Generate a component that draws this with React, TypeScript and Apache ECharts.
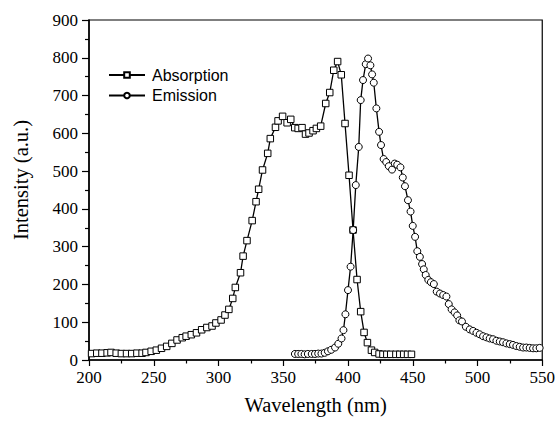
import React, { useEffect, useRef } from "react";
import * as echarts from "echarts";

const absorption: [number, number][] = [
  [202, 17], [206, 18], [210, 18], [214, 19], [217, 20], [221, 18], [225, 17], [229, 17],
  [233, 17], [237, 18], [241, 18], [244, 20], [248, 23], [252, 26], [256, 31], [260, 36],
  [264, 44], [268, 53], [272, 59], [275, 63], [279, 67], [283, 72], [287, 80], [291, 86],
  [295, 90], [298, 98], [302, 106], [305, 119], [308, 134], [311, 163], [313, 192], [317, 231],
  [319, 275], [322, 316], [326, 369], [329, 419], [331, 452], [334, 503], [338, 547], [340, 586],
  [344, 616], [346, 633], [349.5, 645], [353, 628], [355.8, 637], [358.9, 615], [361.5, 613],
  [364.5, 615], [367.2, 598], [369.9, 601], [373, 607], [375.6, 613], [378.9, 619], [382.8, 679],
  [385.9, 708], [389, 767], [392, 790], [394.8, 755], [397.7, 626], [400.8, 489], [403.9, 344],
  [407, 213], [409.8, 128], [412.4, 73], [415, 46], [418.1, 26], [420.6, 20], [424, 16],
  [427, 15], [430, 15], [433, 15], [437, 15], [440, 15], [443, 15], [446, 15], [449, 15],
];

const emission: [number, number][] = [
  [359, 16], [361.5, 16], [364, 16], [366.5, 15], [369, 16], [372, 16], [374.5, 16], [377, 17],
  [379.5, 17], [382, 19], [384.5, 23], [387, 27], [390, 33], [392.5, 43], [395, 57], [396.5, 79],
  [398, 121], [400, 185], [402, 247], [404, 344], [406, 463], [408.3, 564], [409.8, 688],
  [411.6, 741], [413.7, 783], [415.5, 798], [417.3, 780], [418.6, 756], [419.9, 734], [421.9, 666],
  [424, 604], [425.5, 569], [427.5, 532], [429.5, 524], [431.5, 513], [434, 504], [436.1, 520],
  [438, 517], [440.5, 510], [442.3, 483], [444, 460], [446.3, 423], [448.3, 393], [450, 355],
  [451.8, 326], [453.5, 288], [455.5, 273], [457.2, 254], [458.5, 240], [460, 225], [462, 212],
  [464, 206], [466.3, 201], [468.5, 181], [471, 176], [473.5, 172], [476, 168], [477.8, 148],
  [480, 134], [482.3, 126], [484.3, 118], [486, 105], [488, 102], [491, 88], [494, 81],
  [496.6, 77], [499.2, 72], [501.7, 68], [504.3, 63], [506.9, 60], [509.4, 57], [512, 55],
  [514.6, 51], [517.2, 49], [519.7, 47], [522.3, 44], [524.9, 42], [527.4, 40], [530, 37],
  [532.6, 35], [535.2, 33], [537.7, 33], [540.3, 32], [542.9, 31], [545.4, 31], [548, 32],
];

const seriesNames = ["Absorption", "Emission"];
const xTitle = "Wavelength (nm)";
const yTitle = "Intensity (a.u.)";

export default function App() {
  const ref = useRef<HTMLDivElement>(null);
  useEffect(() => {
    if (!ref.current) return;
    const chart = echarts.init(ref.current, undefined, { renderer: "svg" });
    const serif = "'Liberation Serif', 'Times New Roman', serif";
    const sans = "'Liberation Sans', Arial, sans-serif";
    chart.setOption({
      animation: false,
      backgroundColor: "#fff",
      grid: {
        left: 89, right: 15, top: 20, bottom: 61,
        show: true, borderColor: "#000", borderWidth: 1.2, backgroundColor: "transparent",
      },
      legend: {
        orient: "vertical",
        left: 108, top: 67, padding: 0,
        itemWidth: 36, itemHeight: 7, itemGap: 4.5,
        textStyle: { fontFamily: sans, fontSize: 16, color: "#000", padding: [0, 0, 0, 2] },
        data: seriesNames,
      },
      graphic: [
        {
          type: "text", x: 21, y: 180, rotation: Math.PI / 2,
          style: {
            text: yTitle, align: "center", verticalAlign: "middle",
            fontFamily: serif, fontSize: 20.5, fill: "#000",
          },
        },
      ],
      xAxis: {
        type: "value", min: 200, max: 550, interval: 50,
        name: xTitle, nameLocation: "middle", nameGap: 34,
        nameTextStyle: { fontFamily: serif, fontSize: 20.5, color: "#000" },
        axisLine: { show: true, onZero: false, lineStyle: { color: "#000", width: 1.5 } },
        axisTick: { show: true, inside: false, length: 6, lineStyle: { color: "#000", width: 1.2 } },
        minorTick: { show: true, splitNumber: 2, length: 3.5, lineStyle: { color: "#000", width: 1.2 } },
        axisLabel: { fontFamily: serif, fontSize: 17, color: "#000", margin: 9 },
        splitLine: { show: false },
      },
      yAxis: {
        type: "value", min: 0, max: 900, interval: 100,
        axisLine: { show: true, onZero: false, lineStyle: { color: "#000", width: 1.5 } },
        axisTick: { show: true, inside: false, length: 7, lineStyle: { color: "#000", width: 1.2 } },
        minorTick: { show: true, splitNumber: 2, length: 4, lineStyle: { color: "#000", width: 1.2 } },
        axisLabel: { fontFamily: serif, fontSize: 17, color: "#000", margin: 11 },
        splitLine: { show: false },
      },
      series: [
        {
          name: seriesNames[0], type: "line", data: absorption,
          symbol: "rect", symbolSize: 6.5, showAllSymbol: true,
          lineStyle: { color: "#000", width: 1.3 },
          itemStyle: { color: "#fff", borderColor: "#000", borderWidth: 1 },
        },
        {
          name: seriesNames[1], type: "line", data: emission,
          symbol: "circle", symbolSize: 7, showAllSymbol: true,
          lineStyle: { color: "#000", width: 1.3 },
          itemStyle: { color: "#fff", borderColor: "#000", borderWidth: 1 },
        },
      ],
    });
    return () => chart.dispose();
  }, []);
  return <div ref={ref} style={{ width: 558, height: 421, position: "absolute", left: 0, top: 0 }} />;
}
